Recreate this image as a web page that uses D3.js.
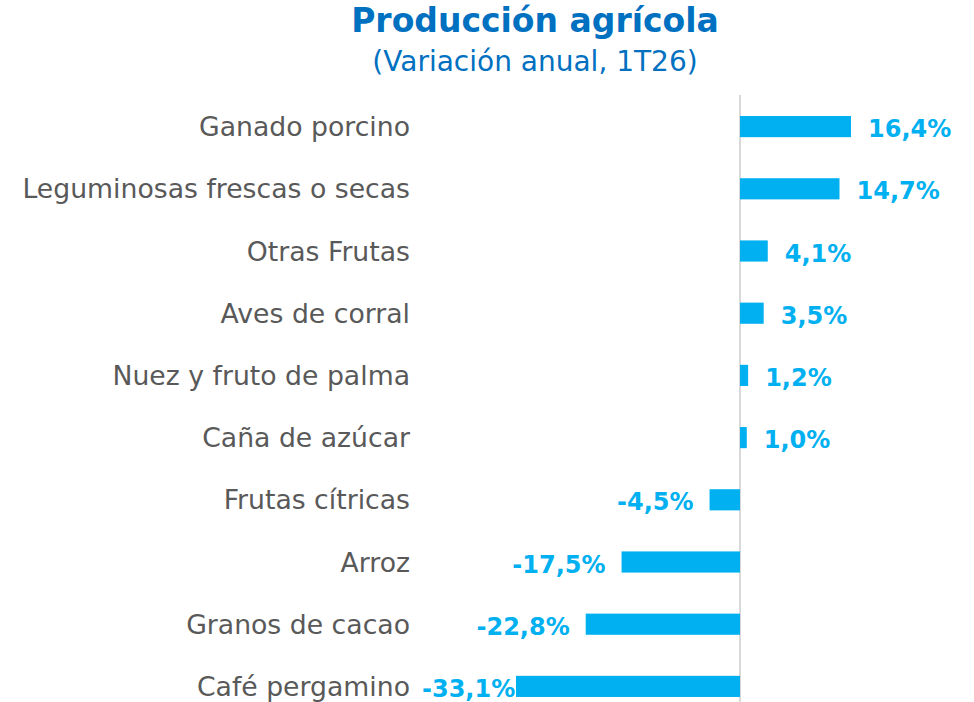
<!DOCTYPE html>
<html>
  <head>
    <meta charset="utf-8">
    <title>Producción agrícola</title>
    <style>
      body{ margin:0; background:#fff; }
      svg{ display:block; font-family:"DejaVu Sans",sans-serif; }
    </style>
  </head>
  <body>
    <script src="https://cdn.jsdelivr.net/npm/d3@7"></script>
    <script>
      // datos
      var categorias = ['Ganado porcino','Leguminosas frescas o secas','Otras Frutas','Aves de corral',
        'Nuez y fruto de palma','Caña de azúcar','Frutas cítricas','Arroz','Granos de cacao','Café pergamino'];
      var valores = [16.4, 14.7, 4.1, 3.5, 1.2, 1.0, -4.5, -17.5, -22.8, -33.1];
      var titulo = 'Producción agrícola';
      var subtitulo = '(Variación anual, 1T26)';

      var W = 974, H = 702;
      var svg = d3.select('body').append('svg').attr('width', W).attr('height', H);

      // escalas
      var x = d3.scaleLinear().domain([-33.1, 16.4]).range([516, 851]);
      var y = d3.scaleBand().domain(categorias).range([95.5, 717.5]).paddingInner(0.66).paddingOuter(0.33);

      var fmt = function(v){ return d3.format('.1f')(v).replace('.', ',').replace('\u2212', '-') + '%'; };

      // títulos
      svg.append('text').attr('x', 535).attr('y', 32).attr('text-anchor', 'middle')
        .style('font-size', '33px').style('font-weight', 'bold').style('fill', '#0070C0')
        .text(titulo);
      svg.append('text').attr('x', 535).attr('y', 71).attr('text-anchor', 'middle')
        .style('font-size', '28px').style('fill', '#0070C0')
        .text(subtitulo);

      // línea del cero
      svg.append('line').attr('x1', x(0)).attr('x2', x(0)).attr('y1', 95).attr('y2', 702)
        .style('stroke', '#d9d9d9').style('stroke-width', 2);

      // barras
      svg.selectAll('rect.bar').data(valores).enter().append('rect').attr('class', 'bar')
        .attr('x', function(d){ return x(Math.min(0, d)); })
        .attr('y', function(d, i){ return y(categorias[i]); })
        .attr('width', function(d){ return Math.abs(x(d) - x(0)); })
        .attr('height', y.bandwidth())
        .style('fill', '#00B0F0');

      // categorías
      svg.selectAll('text.cat').data(categorias).enter().append('text').attr('class', 'cat')
        .attr('x', 410).attr('y', function(d){ return y(d) + y.bandwidth()/2; })
        .attr('dy', '0.36em').attr('text-anchor', 'end')
        .style('font-size', '26.7px').style('fill', '#595959')
        .text(function(d){ return d; });

      // etiquetas de valor
      svg.selectAll('text.val').data(valores).enter().append('text').attr('class', 'val')
        .attr('y', function(d, i){ return y(categorias[i]) + y.bandwidth()/2 + 2; })
        .attr('dy', '0.36em')
        .style('font-size', '24px').style('font-weight', 'bold').style('fill', '#00B0F0')
        .text(fmt)
        .each(function(d){
          var t = d3.select(this), w = this.getComputedTextLength();
          if(d >= 0){
            t.attr('x', x(d) + 17);
          } else {
            var xx = Math.max(x(d) - 16 - w, 422);
            t.attr('x', xx);
          }
        });
    </script>
  </body>
</html>
